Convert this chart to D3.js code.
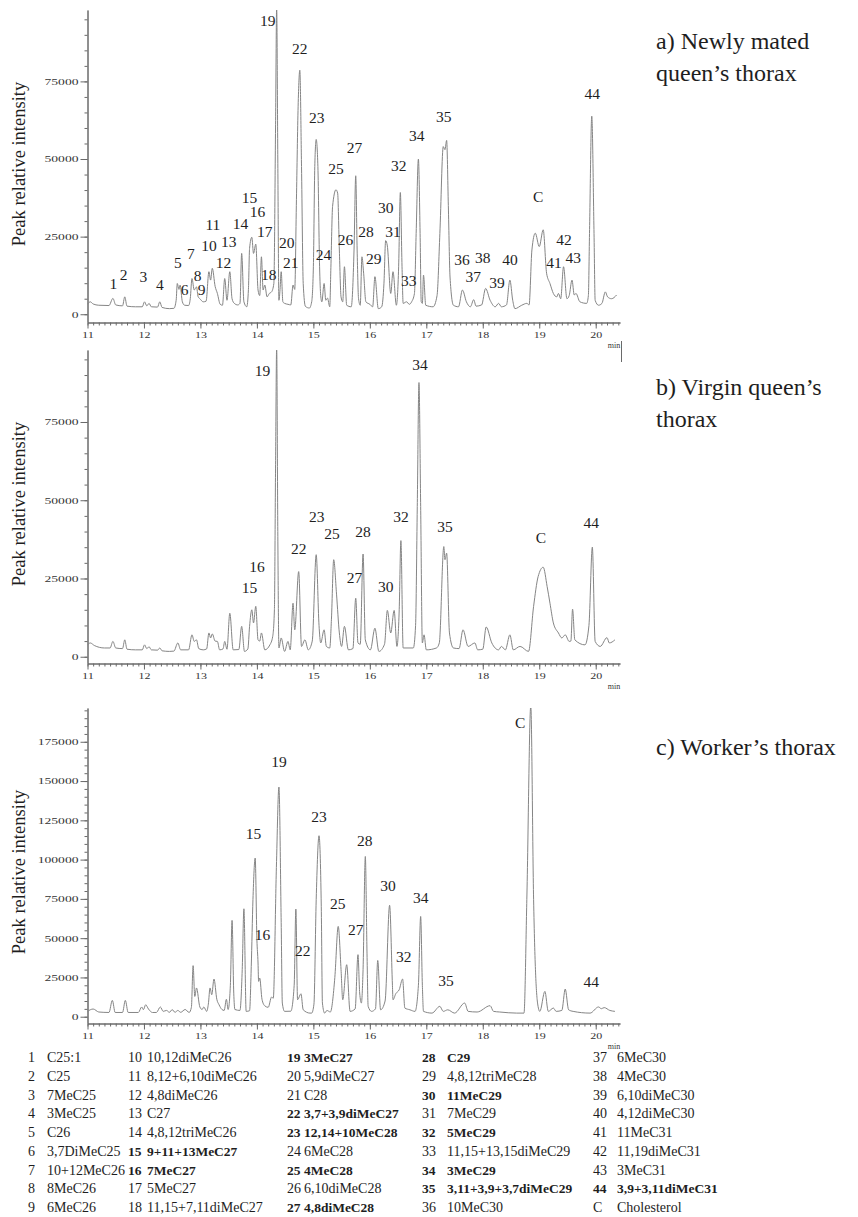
<!DOCTYPE html>
<html><head><meta charset="utf-8">
<script src="https://cdn.jsdelivr.net/npm/d3@7"></script>
<style>html,body{margin:0;padding:0;background:#fff;} svg text{font-family:"Liberation Serif","DejaVu Serif",serif;}</style>
</head><body>
<svg id="chart" width="858" height="1217"></svg>
<script>
// ---------- DATA (retention time in min, intensity) ----------
const traceA = [[11.00,3200],[11.05,4000],[11.10,3300],[11.20,2900],[11.38,2800],[11.45,5100],[11.50,3000],[11.62,2700],[11.66,5600],[11.70,2600],[11.85,2400],[11.97,2400],[12.01,4000],[12.05,2700],[12.09,3500],[12.13,2400],[12.24,2300],[12.28,4000],[12.32,2200],[12.45,1800],[12.53,1900],[12.57,4500],[12.59,9900],[12.62,8000],[12.64,9400],[12.68,4000],[12.72,2900],[12.79,2800],[12.82,5000],[12.85,11500],[12.89,7800],[12.93,8800],[12.96,5600],[12.99,5000],[13.05,4000],[13.10,4200],[13.15,13700],[13.18,11000],[13.21,14800],[13.26,9000],[13.30,6700],[13.35,3200],[13.39,2900],[13.43,11500],[13.47,4500],[13.52,13700],[13.56,5000],[13.60,3500],[13.66,3000],[13.70,3500],[13.73,19600],[13.77,4000],[13.82,2400],[13.85,8000],[13.87,21200],[13.91,24800],[13.94,19600],[13.98,22600],[14.02,7800],[14.05,6000],[14.08,18500],[14.11,7800],[14.14,9400],[14.18,5600],[14.22,6700],[14.26,7200],[14.30,9900],[14.33,60000],[14.35,99000],[14.37,50000],[14.39,4500],[14.41,8000],[14.43,13700],[14.46,4000],[14.49,3500],[14.55,3200],[14.60,3000],[14.64,9400],[14.67,8000],[14.70,36900],[14.73,67000],[14.76,78600],[14.79,47600],[14.82,9900],[14.86,2500],[14.93,2000],[14.97,4000],[15.00,15300],[15.025,47600],[15.05,56300],[15.08,47600],[15.11,15300],[15.13,6000],[15.15,4000],[15.19,9900],[15.22,4500],[15.25,5200],[15.29,2400],[15.31,15000],[15.34,34700],[15.40,40100],[15.43,39000],[15.46,20700],[15.49,5600],[15.52,4000],[15.55,15300],[15.59,2900],[15.67,2400],[15.72,20700],[15.75,44600],[15.775,20700],[15.80,5000],[15.83,2900],[15.86,18500],[15.89,13200],[15.93,4000],[16.00,3200],[16.05,2400],[16.09,12100],[16.15,1800],[16.21,2400],[16.25,10000],[16.28,23700],[16.31,22000],[16.37,6700],[16.41,13700],[16.47,2900],[16.51,15300],[16.54,39200],[16.57,15300],[16.59,3500],[16.65,4000],[16.70,3200],[16.74,4000],[16.79,6700],[16.82,26000],[16.86,50000],[16.89,26000],[16.91,4000],[16.93,3500],[16.95,12600],[16.99,2900],[17.12,2400],[17.19,6000],[17.24,26000],[17.30,54000],[17.33,53000],[17.36,56000],[17.39,35000],[17.42,12000],[17.48,2900],[17.57,2400],[17.64,7800],[17.71,4000],[17.78,2400],[17.84,4700],[17.88,2600],[17.98,3000],[18.05,8300],[18.13,4500],[18.22,2400],[18.28,3500],[18.33,2400],[18.42,3000],[18.48,11000],[18.53,4500],[18.57,1800],[18.69,2900],[18.78,3500],[18.82,3000],[18.87,20700],[18.93,26100],[19.00,21800],[19.07,27200],[19.13,13200],[19.19,9900],[19.25,6700],[19.31,5600],[19.34,6700],[19.38,5000],[19.43,15300],[19.49,5000],[19.53,6000],[19.58,11000],[19.62,6200],[19.65,6700],[19.72,4000],[19.84,3500],[19.87,6000],[19.89,26000],[19.93,63800],[19.97,26000],[19.99,4500],[20.05,2900],[20.11,3500],[20.17,7200],[20.21,5600],[20.28,5000],[20.37,6200]];

const traceB = [[11.00,3800],[11.05,4400],[11.12,3600],[11.30,2800],[11.40,2800],[11.45,4900],[11.50,2800],[11.62,2600],[11.66,5400],[11.70,2400],[11.85,2200],[11.97,2200],[12.01,3800],[12.05,2600],[12.09,3200],[12.13,2200],[12.24,2100],[12.28,2800],[12.32,1900],[12.45,1700],[12.53,1800],[12.60,4400],[12.65,2200],[12.79,2200],[12.85,7000],[12.89,4900],[12.93,5400],[12.97,2600],[13.05,2200],[13.11,2500],[13.15,7600],[13.18,6000],[13.21,7300],[13.26,5000],[13.30,4900],[13.34,2200],[13.40,2500],[13.43,4900],[13.47,2400],[13.52,13900],[13.58,2200],[13.68,2300],[13.73,9700],[13.78,1700],[13.84,2500],[13.87,9700],[13.91,15000],[13.94,10800],[13.98,16100],[14.02,5400],[14.05,5000],[14.08,7600],[14.14,2200],[14.23,3800],[14.28,6500],[14.31,15000],[14.33,60000],[14.35,99000],[14.37,40000],[14.39,2800],[14.43,6000],[14.49,1700],[14.55,4900],[14.59,2200],[14.64,17100],[14.67,8600],[14.74,27200],[14.79,3300],[14.85,5400],[14.91,2200],[14.98,5000],[15.05,32600],[15.10,10000],[15.13,4400],[15.19,8600],[15.23,3300],[15.29,2800],[15.32,12000],[15.36,31000],[15.41,20000],[15.46,7600],[15.50,3300],[15.55,9700],[15.62,2200],[15.70,2600],[15.75,18700],[15.79,4400],[15.83,4000],[15.88,32800],[15.92,5400],[16.01,2200],[16.09,9100],[16.16,1700],[16.26,4000],[16.31,14800],[16.37,7600],[16.43,14800],[16.48,3300],[16.52,15000],[16.55,37100],[16.59,2800],[16.77,2800],[16.81,10000],[16.84,48000],[16.87,87600],[16.90,48000],[16.93,4400],[16.96,7000],[17.00,2200],[17.18,2800],[17.23,4400],[17.31,35200],[17.33,31000],[17.36,33100],[17.41,7600],[17.48,2800],[17.58,2600],[17.65,8600],[17.74,3300],[17.86,4400],[17.91,2200],[18.00,2400],[18.06,9500],[18.16,4400],[18.28,2200],[18.33,3300],[18.40,2200],[18.48,7000],[18.54,2200],[18.66,3300],[18.81,1700],[18.90,16100],[18.98,25600],[19.07,28600],[19.14,22400],[19.19,17100],[19.25,10800],[19.34,7600],[19.40,6000],[19.46,7000],[19.53,4900],[19.56,5000],[19.59,15200],[19.63,5400],[19.81,3800],[19.88,10000],[19.94,35000],[19.99,4900],[20.08,3300],[20.20,6100],[20.24,4400],[20.34,5400]];

const traceC = [[11.00,3400],[11.10,4900],[11.20,3000],[11.38,2700],[11.44,10400],[11.49,2700],[11.62,2700],[11.67,10400],[11.72,2700],[11.90,2700],[11.96,6200],[11.99,4500],[12.03,7600],[12.08,4900],[12.15,2700],[12.22,2700],[12.29,6200],[12.34,3400],[12.40,4000],[12.45,2800],[12.50,4500],[12.55,2800],[12.60,4000],[12.65,2800],[12.73,4600],[12.80,2700],[12.84,6000],[12.87,32500],[12.90,12900],[12.93,18300],[12.99,6200],[13.03,4600],[13.06,6200],[13.11,3400],[13.14,8000],[13.17,18300],[13.20,14000],[13.24,24000],[13.29,11100],[13.33,7600],[13.38,4600],[13.42,4000],[13.46,11100],[13.49,4600],[13.53,20000],[13.56,61300],[13.59,15000],[13.61,4600],[13.70,4000],[13.74,30000],[13.77,68700],[13.81,3400],[13.87,3800],[13.90,32000],[13.93,74500],[13.97,101000],[14.00,49000],[14.02,34200],[14.03,22500],[14.05,24600],[14.09,11100],[14.14,6900],[14.20,6000],[14.26,12500],[14.29,11800],[14.345,95000],[14.39,146200],[14.43,60000],[14.45,8700],[14.49,3400],[14.60,3500],[14.66,20000],[14.69,68500],[14.72,10800],[14.78,14600],[14.82,4400],[14.94,2300],[14.97,2300],[15.01,8000],[15.05,74500],[15.10,115200],[15.14,70000],[15.16,8700],[15.20,2300],[15.24,4000],[15.30,3000],[15.38,25000],[15.44,57500],[15.49,30000],[15.52,10800],[15.59,33100],[15.65,3400],[15.74,5000],[15.79,39500],[15.82,15100],[15.85,8700],[15.88,30000],[15.92,102000],[15.95,40000],[15.97,6600],[16.03,3400],[16.10,5000],[16.14,35800],[16.19,4400],[16.27,10000],[16.35,70900],[16.40,20000],[16.41,10800],[16.46,14700],[16.52,17200],[16.58,24000],[16.62,5500],[16.71,4400],[16.80,3400],[16.86,20000],[16.90,63800],[16.93,20000],[16.95,3400],[17.10,2300],[17.24,6600],[17.30,3400],[17.38,4400],[17.50,2300],[17.68,8700],[17.74,3400],[17.90,3000],[18.13,7000],[18.19,3400],[18.30,3000],[18.60,2300],[18.73,2300],[18.78,74500],[18.85,198000],[18.90,74500],[18.97,8700],[19.01,3400],[19.10,16100],[19.16,3400],[19.25,5500],[19.30,3400],[19.40,4000],[19.46,17600],[19.52,4400],[19.60,3400],[19.90,2300],[20.05,6200],[20.10,5100],[20.15,5800],[20.25,4000],[20.34,3400]];

// peak labels: [text, time, intensity]
const labelsA = [["1",11.46,10000],["2",11.64,12900],["3",11.99,12300],["4",12.28,9700],["5",12.60,16800],["6",12.72,8100],["7",12.83,19700],["8",12.95,12600],["9",13.02,8100],["10",13.15,22000],["11",13.22,28800],["12",13.41,16800],["13",13.50,23300],["14",13.71,29100],["15",13.87,37500],["16",14.01,33000],["17",14.14,26500],["18",14.21,12900],["19",14.19,94700],["20",14.53,23000],["21",14.60,16800],["22",14.76,85700],["23",15.06,63400],["24",15.18,19400],["25",15.40,46900],["26",15.57,24200],["27",15.73,53700],["28",15.93,26500],["29",16.07,17800],["30",16.28,34300],["31",16.41,26500],["32",16.51,47900],["33",16.69,11000],["34",16.83,57500],["35",17.31,63700],["36",17.63,17500],["37",17.83,12000],["38",18.00,18400],["39",18.25,10300],["40",18.48,17500],["C",18.98,37800],["41",19.26,16800],["42",19.44,24200],["43",19.60,18400],["44",19.94,71100]];
const labelsB = [["19",14.10,91300],["16",14.00,28700],["15",13.87,22000],["22",14.74,34500],["23",15.06,44700],["25",15.33,39300],["28",15.88,39900],["27",15.73,25200],["30",16.28,22300],["32",16.55,44700],["34",16.89,93500],["35",17.33,41500],["C",19.03,38000],["44",19.92,42800]];
const labelsC = [["15",13.94,116500],["16",14.10,52200],["19",14.39,162300],["22",14.81,42000],["23",15.10,127300],["25",15.43,71900],["27",15.75,55400],["28",15.91,112000],["30",16.32,83400],["32",16.60,38200],["34",16.90,75700],["35",17.35,22900],["C",18.66,187100],["44",19.92,22300]];

const xTickValues = [11,12,13,14,15,16,17,18,19,20];
const yTicksAB = [0,25000,50000,75000];
const yTicksC = [0,25000,50000,75000,100000,125000,150000,175000];

const titlesA = ["a) Newly mated","queen\u2019s thorax"];
const titlesB = ["b) Virgin queen\u2019s","thorax"];
const titlesC = ["c) Worker\u2019s thorax"];

const compoundIds = ["1","2","3","4","5","6","7","8","9","10","11","12","13","14","15","16","17","18","19","20","21","22","23","24","25","26","27","28","29","30","31","32","33","34","35","36","37","38","39","40","41","42","43","44","C"];
const compoundNames = ["C25:1","C25","7MeC25","3MeC25","C26","3,7DiMeC25","10+12MeC26","8MeC26","6MeC26","10,12diMeC26","8,12+6,10diMeC26","4,8diMeC26","C27","4,8,12triMeC26","9+11+13MeC27","7MeC27","5MeC27","11,15+7,11diMeC27","3MeC27","5,9diMeC27","C28","3,7+3,9diMeC27","12,14+10MeC28","6MeC28","4MeC28","6,10diMeC28","4,8diMeC28","C29","4,8,12triMeC28","11MeC29","7MeC29","5MeC29","11,15+13,15diMeC29","3MeC29","3,11+3,9+3,7diMeC29","10MeC30","6MeC30","4MeC30","6,10diMeC30","4,12diMeC30","11MeC31","11,19diMeC31","3MeC31","3,9+3,11diMeC31","Cholesterol"];
const boldIds = ["15","16","19","22","23","25","27","28","30","32","34","35","44"];

// ---------- LAYOUT ----------
const svg = d3.select("#chart");
const serif = "Liberation Serif, DejaVu Serif, serif";
const x = d3.scaleLinear().domain([11, 20.43]).range([87.5, 620]);

const panels = [
  {trace: traceA, labels: labelsA, titles: titlesA, titleY: 49, yDom: [-2500, 98000], yRange: [322, 10], yTicks: yTicksAB, yLabelY: 164, minorMax: 95000},
  {trace: traceB, labels: labelsB, titles: titlesB, titleY: 395, yDom: [-2000, 98000], yRange: [663, 350], yTicks: yTicksAB, yLabelY: 504, minorMax: 95000},
  {trace: traceC, labels: labelsC, titles: titlesC, titleY: 755, yDom: [-4000, 196500], yRange: [1023, 708], yTicks: yTicksC, yLabelY: 872, minorMax: 195000}
];

const axisColor = "#6a6a6a";
const traceColor = "#858585";

panels.forEach((p, i) => {
  const y = d3.scaleLinear().domain(p.yDom).range(p.yRange);
  const g = svg.append("g");
  const clipId = "clip" + i;
  svg.append("clipPath").attr("id", clipId).append("rect")
    .attr("x", 87).attr("y", p.yRange[1]).attr("width", 540).attr("height", p.yRange[0] - p.yRange[1]);

  const yMinor = g.append("g").attr("transform", "translate(87.5,0)")
    .call(d3.axisLeft(y).tickValues(d3.range(0, p.minorMax + 1, 5000)).tickSize(3).tickSizeOuter(0).tickFormat(""));
  const yMajor = g.append("g").attr("transform", "translate(87.5,0)")
    .call(d3.axisLeft(y).tickValues(p.yTicks).tickSize(7).tickSizeOuter(0).tickPadding(2).tickFormat(d3.format("d")));
  const xMinor = g.append("g").attr("transform", `translate(0,${p.yRange[0] + 0.5})`)
    .call(d3.axisBottom(x).tickValues(d3.range(110, 205).map(v => v / 10)).tickSize(3).tickSizeOuter(0).tickFormat(""));
  const xMajor = g.append("g").attr("transform", `translate(0,${p.yRange[0] + 0.5})`)
    .call(d3.axisBottom(x).tickValues(xTickValues).tickSize(6).tickSizeOuter(0).tickPadding(3).tickFormat(d3.format("d")));

  [yMinor, yMajor, xMinor, xMajor].forEach(a => {
    a.attr("font-family", null).attr("font-size", null);
    a.selectAll("path,line").attr("stroke", axisColor).attr("stroke-width", 1);
    a.selectAll("text").attr("fill", "#333").style("font-family", serif).style("font-size", "9px")
      .attr("lengthAdjust", "spacingAndGlyphs");
  });
  yMajor.selectAll("text").attr("textLength", d => String(d).length * 6.8);
  xMajor.selectAll("text").attr("textLength", d => String(d).length * 6);

  g.append("text").attr("x", 614).attr("y", p.yRange[0] + 26).attr("text-anchor", "middle")
    .style("font-size", "8px").attr("fill", "#333").text("min");

  const line = d3.line().x(d => x(d[0])).y(d => y(d[1])).curve(d3.curveMonotoneX);
  g.append("path").datum(p.trace).attr("d", line).attr("fill", "none")
    .attr("stroke", traceColor).attr("stroke-width", 1).attr("clip-path", `url(#${clipId})`);

  g.selectAll("text.pk").data(p.labels).join("text").attr("class", "pk")
    .attr("x", d => x(d[1])).attr("y", d => y(d[2]))
    .attr("text-anchor", "middle").attr("dominant-baseline", "central")
    .style("font-size", "15.5px").attr("fill", "#1e1e1e").text(d => d[0]);

  g.append("text").attr("transform", `translate(25,${p.yLabelY}) rotate(-90)`)
    .attr("text-anchor", "middle").style("font-size", "18.5px")
    .attr("fill", "#1e1e1e").text("Peak relative intensity");

  g.selectAll("text.tt").data(p.titles).join("text").attr("class", "tt")
    .attr("x", 656).attr("y", (d, k) => p.titleY + k * 32)
    .style("font-size", "24px").attr("fill", "#1e1e1e").text(d => d);
});

svg.append("line").attr("x1", 621.5).attr("x2", 621.5).attr("y1", 341).attr("y2", 362)
  .attr("stroke", axisColor).attr("stroke-width", 1);

// ---------- LEGEND ----------
const colNumX = [28, 128, 287, 422, 593];
const colTextX = [47, 147, 304, 447, 617];
const legend = svg.append("g");
compoundIds.forEach((id, k) => {
  const col = Math.floor(k / 9), row = k % 9;
  const yy = 1062 + row * 18.75;
  const bold = boldIds.includes(id);
  [[colNumX[col], id], [colTextX[col], compoundNames[k]]].forEach(([xx, txt]) => {
    legend.append("text").attr("x", xx).attr("y", yy)
      .style("font-size", bold ? "13.5px" : "14px")
      .style("font-weight", bold ? "bold" : "normal").attr("fill", "#1e1e1e").text(txt);
  });
});
</script>
</body></html>
